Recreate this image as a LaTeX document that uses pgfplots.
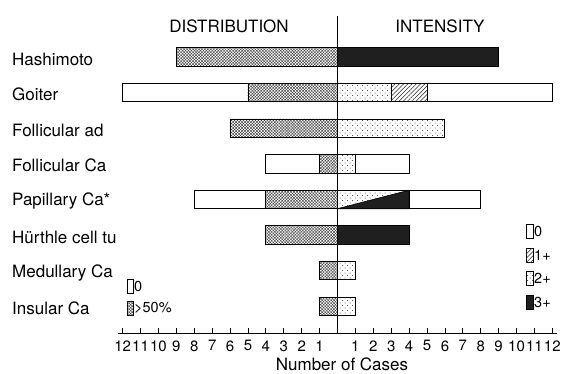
\documentclass[border=0pt]{standalone}
\usepackage{fontspec}
\setmainfont{TeX Gyre Heros}
\usepackage{pgfplots}
\pgfplotsset{compat=1.18}
\usetikzlibrary{patterns,patterns.meta}
\tikzset{
  bw/.style={line width=0.9pt, draw=black},
  s0/.style={bw, fill=white},
  sdense/.style={bw, fill=white,
     postaction={pattern={Lines[angle=45,distance=2.1pt,line width=0.35pt]}, pattern color=black!85},
     postaction={pattern={Lines[angle=-45,distance=2.1pt,line width=0.35pt]}, pattern color=black!85}},
  s1/.style={bw, fill=white,
     postaction={pattern={Lines[angle=45,distance=3pt,line width=0.5pt]}, pattern color=black!85}},
  s2/.style={bw, fill=white,
     postaction={pattern={Dots[distance=5pt,radius=0.5pt]}, pattern color=black!80},
     postaction={pattern={Dots[distance=5pt,radius=0.5pt,xshift=2.5pt,yshift=2.5pt]}, pattern color=black!80}},
  s3/.style={bw, fill=black!88},
  mybar/.style={xbar, bar width=18.5pt, bar shift=0pt},
}
\newcommand{\bigf}{\fontsize{17}{20}\selectfont}
\newcommand{\midf}{\fontsize{14.5}{16}\selectfont}
\begin{document}
\begin{tikzpicture}
\useasboundingbox (0,0) rectangle (561pt,373pt);
\begin{axis}[
  at={(118.2pt,40pt)}, anchor=south west,
  scale only axis, width=438.6pt, height=317pt,
  xmin=-12.25, xmax=12.25, ymin=-1.15, ymax=7.75,
  y dir=reverse, clip=false,
  axis x line=bottom, axis y line=none,
  x axis line style={-, line width=0.9pt},
  xtick={-12,-11,-10,-9,-8,-7,-6,-5,-4,-3,-2,-1,1,2,3,4,5,6,7,8,9,10,11,12},
  xticklabels={12,11,10,9,8,7,6,5,4,3,2,1,1,2,3,4,5,6,7,8,9,10,11,12},
  /pgf/number format/assume math mode=true,
  xticklabel style={font=\fontsize{15}{16}\selectfont, yshift=-4pt},
  tick align=inside, major tick length=5pt,
  xtick style={line width=0.8pt, black},
  ytick=\empty,
]
% distribution (left)
\addplot[mybar, s0] coordinates {(-12,1) (-4,3) (-8,4)};
\addplot[mybar, sdense] coordinates {(-9,0) (-5,1) (-6,2) (-1,3) (-4,4) (-4,5) (-1,6) (-1,7)};
% intensity (right)
\addplot[mybar, s0] coordinates {(12,1) (4,3) (8,4)};
\addplot[mybar, s1] coordinates {(5,1)};
\addplot[mybar, s2] coordinates {(3,1) (6,2) (1,3) (4,4) (1,6) (1,7)};
\addplot[mybar, s3] coordinates {(9,0) (4,5)};
% Papillary Ca: 3+ part of the split bar
\addplot[s3, line width=0.6pt] coordinates {(0,4.26) (4,4.26) (4,3.74) (0,4.26)};
\draw[line width=0.8pt] (axis cs:0,-1.15) -- (axis cs:0,7.75);
\end{axis}
% titles
\node[font=\bigf] at (229pt,347pt) {DISTRIBUTION};
\node[font=\bigf] at (440pt,347pt) {INTENSITY};
\node[font=\bigf, inner sep=0pt] at (342pt,9pt) {Number of Cases};
% category labels
\foreach \t/\y in {Hashimoto/314, Goiter/278.4, Follicular ad/242.8, Follicular Ca/207.2, Papillary Ca*/171.6, Hürthle cell tu/136, Medullary Ca/100.4, Insular Ca/64.8}
  \node[anchor=west, font=\bigf, inner sep=0pt] at (12pt,\y pt) {\t};
% legend right (intensity)
\draw[s0] (526pt,135pt) rectangle (533pt,149pt);
\draw[s1] (526pt,111pt) rectangle (533pt,125pt);
\draw[s2] (526pt,88pt) rectangle (533pt,102pt);
\draw[s3] (526pt,64pt) rectangle (533pt,78pt);
\node[anchor=west, font=\midf, inner sep=0pt] at (534pt,142pt) {0};
\node[anchor=west, font=\midf, inner sep=0pt] at (534pt,118pt) {1+};
\node[anchor=west, font=\midf, inner sep=0pt] at (534pt,95pt) {2+};
\node[anchor=west, font=\midf, inner sep=0pt] at (534pt,71pt) {3+};
% legend left (distribution)
\draw[s0] (127pt,80pt) rectangle (133pt,94pt);
\draw[sdense] (127pt,58pt) rectangle (133pt,72pt);
\node[anchor=west, font=\midf, inner sep=0pt] at (134pt,87pt) {0};
\node[anchor=west, font=\midf, inner sep=0pt] at (134pt,65pt) {>50\%};
\end{tikzpicture}
\end{document}
